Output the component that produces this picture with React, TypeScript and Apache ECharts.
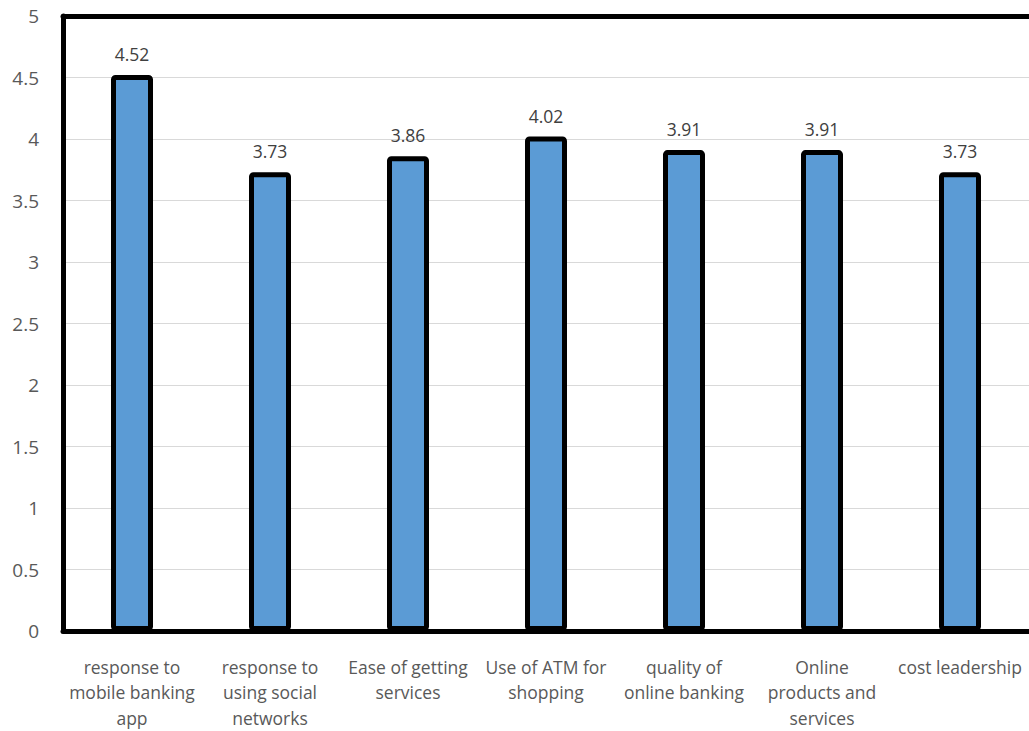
import React, { useEffect, useRef } from "react";
import * as echarts from "echarts";

const categories = [
  "response to\nmobile banking\napp",
  "response to\nusing social\nnetworks",
  "Ease of getting\nservices",
  "Use of ATM for\nshopping",
  "quality of\nonline banking",
  "Online\nproducts and\nservices",
  "cost leadership",
];
const values = [4.52, 3.73, 3.86, 4.02, 3.91, 3.91, 3.73];

const FONT = "'Open Sans', Lato, sans-serif";

export default function App() {
  const ref = useRef<HTMLDivElement>(null);
  useEffect(() => {
    document.body.style.margin = "0";
    document.body.style.overflow = "hidden";
    const chart = echarts.init(ref.current!, null, { renderer: "svg" });
    const frame = { show: true, lineStyle: { color: "#000000", width: 5 } };
    chart.setOption({
      animation: false,
      backgroundColor: "#ffffff",
      grid: {
        show: false,
        left: 63,
        right: -5,
        top: 16,
        bottom: 100,
        containLabel: false,
      },
      xAxis: [
        {
          type: "category",
          data: categories,
          position: "bottom",
          axisLine: { show: true, lineStyle: { color: "#000000", width: 5 } },
          axisTick: { show: false },
          axisLabel: {
            interval: 0,
            color: "#595959",
            fontFamily: FONT,
            fontSize: 17.5,
            lineHeight: 25.5,
            margin: 23,
          },
        },
        {
          type: "category",
          data: categories,
          position: "top",
          axisLine: frame,
          axisTick: { show: false },
          axisLabel: { show: false },
        },
      ],
      yAxis: {
        type: "value",
        min: 0,
        max: 5,
        interval: 0.5,
        axisLine: frame,
        axisTick: { show: false },
        splitLine: { show: true, lineStyle: { color: "#d9d9d9", width: 1 } },
        axisLabel: {
          color: "#595959",
          fontFamily: FONT,
          fontSize: 19,
          margin: 24,
        },
      },
      series: [
        {
          type: "bar",
          data: values,
          barWidth: 42,
          itemStyle: {
            color: "#5b9bd5",
            borderColor: "#000000",
            borderWidth: 5,
            borderRadius: 2,
          },
          label: {
            show: true,
            position: "top",
            distance: 12,
            color: "#404040",
            fontFamily: FONT,
            fontSize: 17.5,
          },
        },
      ],
    });
    return () => chart.dispose();
  }, []);
  return <div ref={ref} style={{ width: 1029, height: 731 }} />;
}
